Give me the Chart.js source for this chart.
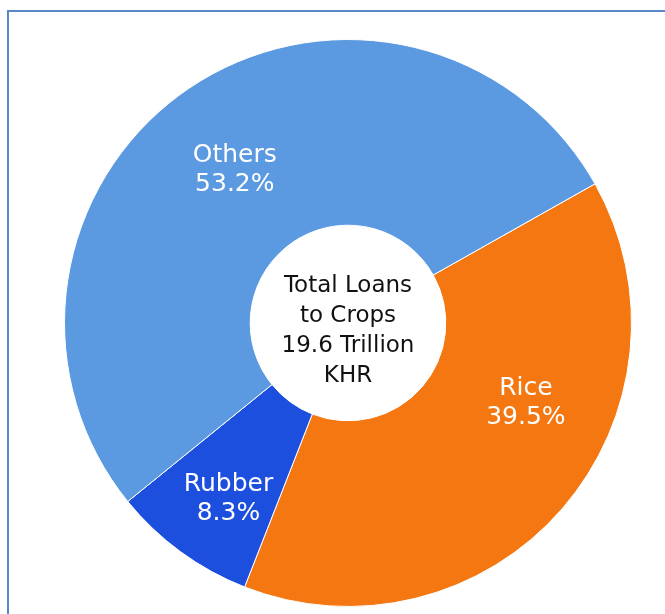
<!DOCTYPE html>
<html>
<head>
<meta charset="utf-8">
<script src="https://cdn.jsdelivr.net/npm/chart.js@4/dist/chart.umd.min.js"></script>
<style>
  html, body { margin: 0; padding: 0; background: #fff; overflow: hidden; }
  #wrap { position: relative; width: 665px; height: 614px; }
  #frame {
    position: absolute; left: 7px; top: 10px; width: 700px; height: 700px;
    border: 2px solid #5a87c8; box-sizing: border-box;
  }
  canvas { position: absolute; left: 0; top: 0; }
</style>
</head>
<body>
<div id="wrap">
  <div id="frame"></div>
  <canvas id="myChart" width="665" height="614"></canvas>
</div>
<script>
const crops = ["Rice", "Rubber", "Others"];
const shares = [39.5, 8.3, 53.2];
const centerLines = ["Total Loans", "to Crops", "19.6 Trillion", "KHR"];

const sliceColors = ["#f47711", "#1c4fdd", "#5b9ae1"];
// nudge for each slice label away from the arc centroid
const labelShift = [[34, -46], [-7, 22], [-6, 4]];

const fontFamily = "'DejaVu Sans', sans-serif";

const sliceLabels = {
  id: "sliceLabels",
  afterDatasetsDraw(chart) {
    const ctx = chart.ctx;
    const arcs = chart.getDatasetMeta(0).data;
    ctx.save();
    ctx.fillStyle = "#ffffff";
    ctx.font = "25px " + fontFamily;
    ctx.textAlign = "center";
    ctx.textBaseline = "middle";
    arcs.forEach((arc, i) => {
      const p = arc.getCenterPoint();
      const x = p.x + labelShift[i][0];
      const y = p.y + labelShift[i][1];
      ctx.fillText(crops[i], x, y - 14);
      ctx.fillText(shares[i].toFixed(1) + "%", x, y + 15);
    });

    const a = arcs[0];
    ctx.fillStyle = "#111111";
    ctx.font = "23px " + fontFamily;
    const lh = 30;
    const top = a.y + 8 - (lh * (centerLines.length - 1)) / 2;
    centerLines.forEach((t, i) => ctx.fillText(t, a.x, top + i * lh));
    ctx.restore();
  },
};

const myChart = new Chart(document.querySelector("#myChart"), {
  type: "doughnut",
  data: {
    labels: crops,
    datasets: [
      {
        data: shares,
        backgroundColor: sliceColors,
        borderColor: "#ffffff",
        borderWidth: 1,
      },
    ],
  },
  options: {
    responsive: false,
    animation: false,
    rotation: 60.6,
    cutout: "34.5%",
    layout: { padding: { left: 64, right: 33, top: 39, bottom: 7 } },
    plugins: {
      legend: { display: false },
      tooltip: { enabled: false },
    },
  },
  plugins: [sliceLabels],
});
</script>
</body>
</html>
